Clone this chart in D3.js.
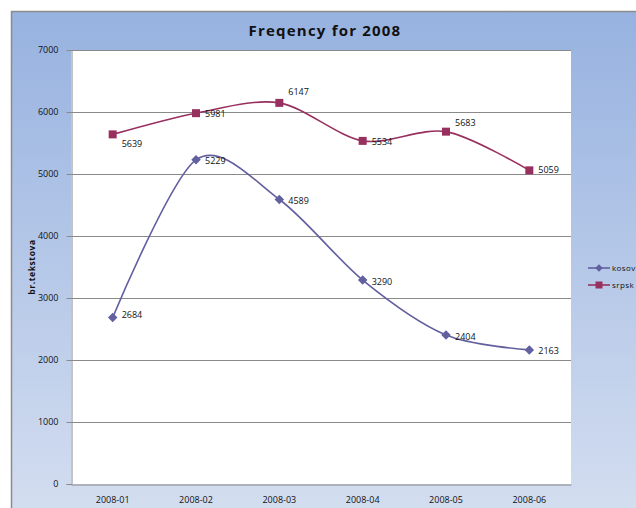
<!DOCTYPE html>
<html><head><meta charset="utf-8">
<script src="https://cdn.jsdelivr.net/npm/d3@7"></script>
<style>body{margin:0;background:#fff;overflow:hidden}svg{display:block}</style>
</head><body>
<svg id="c" width="636" height="508"></svg>
<script>
const categories = ["2008-01","2008-02","2008-03","2008-04","2008-05","2008-06"];
const kosovValues = [2684, 5229, 4589, 3290, 2404, 2163];
const srpskValues = [5639, 5981, 6147, 5534, 5683, 5059];
const seriesNames = ["kosov", "srpsk"];
const yTicks = [0,1000,2000,3000,4000,5000,6000,7000];
const titleText = "Freqency for 2008";
const yTitle = "br.tekstova";

(function(){
const FONT = "'Open Sans', 'DejaVu Sans', sans-serif";
const svg = d3.select("#c");
const defs = svg.append("defs");
const g1 = defs.append("linearGradient").attr("id","bg").attr("x1",0).attr("y1",0).attr("x2",0).attr("y2",1);
g1.append("stop").attr("offset","0%").attr("stop-color","#97b2e0");
g1.append("stop").attr("offset","100%").attr("stop-color","#dfe6f3");

svg.append("rect").attr("x",11.5).attr("y",11.5).attr("width",700).attr("height",600)
  .attr("fill","url(#bg)").attr("stroke","#8c8c8c").attr("stroke-width",1.5);

const pl=71, pr=571, pt=50, pb=484;
const x = d3.scaleBand().domain(categories).range([pl,pr]);
const y = d3.scaleLinear().domain([0,7000]).range([pb,pt]);

svg.append("rect").attr("x",pl).attr("y",pt).attr("width",pr-pl).attr("height",pb-pt).attr("fill","#fff");

svg.append("g").selectAll("line").data(yTicks.filter(d=>d>0)).join("line")
  .attr("x1",pl).attr("x2",pr).attr("y1",d=>Math.round(y(d))+0.5).attr("y2",d=>Math.round(y(d))+0.5)
  .attr("stroke","#8a8a8a").attr("stroke-width",1);

const yAxis = d3.axisLeft(y).tickValues(yTicks).tickFormat(d3.format("d")).tickSize(5).tickPadding(8);
const ya = svg.append("g").attr("transform",`translate(${pl+0.5},0)`).call(yAxis);
const xAxis = d3.axisBottom(x).tickSize(0).tickPadding(12);
const xa = svg.append("g").attr("transform",`translate(0,${pb+0.5})`).call(xAxis);
[ya,xa].forEach(a=>{
  a.select(".domain").attr("stroke","#8a8a8a");
  a.selectAll(".tick line").attr("stroke","#8a8a8a");
  a.selectAll("text").attr("font-family",FONT).attr("font-size",9).attr("fill","#111");
});

svg.append("text").attr("x",325).attr("y",36).attr("text-anchor","middle")
  .attr("font-family",FONT).attr("font-weight","bold").attr("font-size",15)
  .attr("letter-spacing",1.2).attr("fill","#111").text(titleText);
svg.append("text").attr("transform","translate(35,267) rotate(-90)").attr("text-anchor","middle")
  .attr("font-family",FONT).attr("font-weight","bold").attr("font-size",8.5)
  .attr("letter-spacing",0.6).attr("fill","#111").text(yTitle);

const cx = c => x(c) + x.bandwidth()/2;
const line = d3.line().x((d,i)=>cx(categories[i])).y(d=>y(d)).curve(d3.curveCardinal.tension(0.1));

const series = [
  {name: seriesNames[0], values: kosovValues, color: "#62609f", square: false, dy: [-3,1,2,2,2,1]},
  {name: seriesNames[1], values: srpskValues, color: "#98305f", square: true, dy: [10,1,-11,1,-9,0]}
];
const marker = (sq, size) => sq
  ? `M${-size/2},${-size/2}h${size}v${size}h${-size}Z`
  : `M0,${-size/2}L${size/2},0L0,${size/2}L${-size/2},0Z`;

series.forEach(s=>{
  svg.append("path").datum(s.values).attr("d",line).attr("fill","none")
    .attr("stroke",s.color).attr("stroke-width",1.6);
  svg.append("g").selectAll("path").data(s.values).join("path")
    .attr("transform",(d,i)=>`translate(${cx(categories[i])},${y(d)})`)
    .attr("d", marker(s.square, s.square ? 8 : 9.5))
    .attr("fill",s.color);
  svg.append("g").selectAll("text").data(s.values).join("text")
    .attr("x",(d,i)=>cx(categories[i])+9).attr("y",(d,i)=>y(d)+3+s.dy[i])
    .attr("font-family",FONT).attr("font-size",9).attr("fill","#111")
    .text(d=>d);
});

series.forEach((s,i)=>{
  const ly = 268 + i*17;
  svg.append("line").attr("x1",588).attr("x2",610).attr("y1",ly).attr("y2",ly).attr("stroke",s.color).attr("stroke-width",1.6);
  svg.append("path").attr("transform",`translate(599,${ly})`)
    .attr("d", marker(s.square, s.square ? 7 : 7.5)).attr("fill",s.color);
  svg.append("text").attr("x",612).attr("y",ly+3).attr("font-family",FONT)
    .attr("font-size",8).attr("letter-spacing",0.4).attr("fill","#111").text(s.name);
});
})();
</script>
</body></html>
